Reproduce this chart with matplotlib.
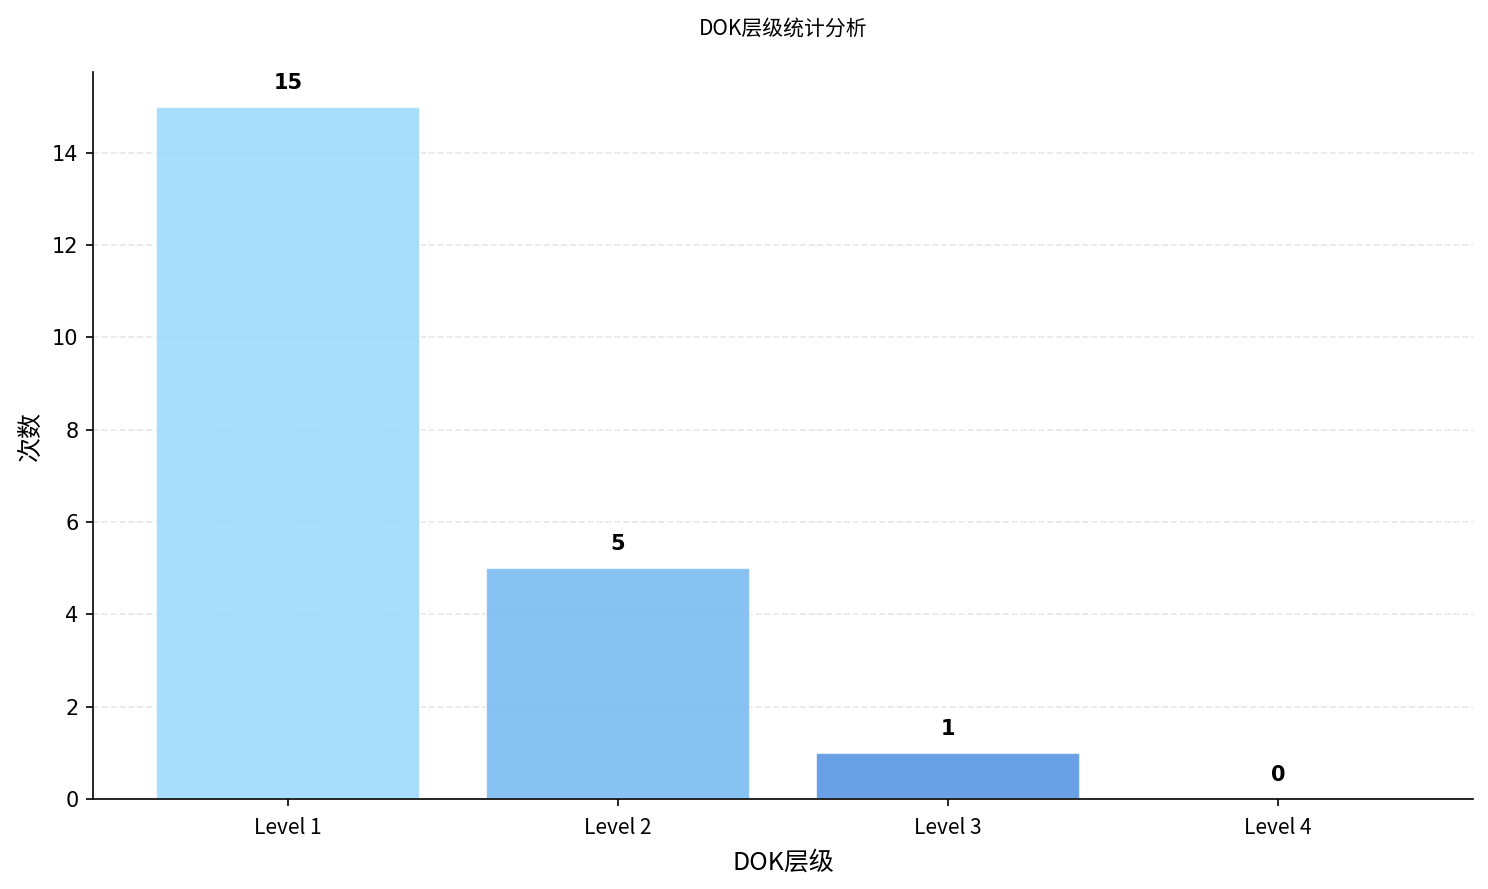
import matplotlib
matplotlib.use('Agg')
import matplotlib.pyplot as plt
import numpy as np

levels = ['Level 1', 'Level 2', 'Level 3', 'Level 4']
counts = [15, 5, 1, 0]
bar_colors = ['#92D6FB', '#6BB3F1', '#4388E0', '#2E6FC4']

cjk = ['Noto Sans CJK SC', 'DejaVu Sans']

fig = plt.figure(figsize=(1488 / 150, 889 / 150), dpi=150)
ax = fig.add_axes([0.0625, 0.1012, 0.9274, 0.8178])

x = np.arange(len(levels))
bars = ax.bar(x, counts, width=0.8, color=bar_colors, alpha=0.8,
              edgecolor='white', linewidth=1, zorder=2)

for rect, val in zip(bars, counts):
    ax.text(rect.get_x() + rect.get_width() / 2, rect.get_height() + 0.3,
            str(val), ha='center', va='bottom', fontsize=10, fontweight='bold')

ax.set_xticks(x)
ax.set_xticklabels(levels, family=cjk, fontsize=10)
ax.tick_params(axis='x', pad=5)
ax.set_xlabel('DOK层级', family=cjk, fontsize=12, labelpad=5)
ax.set_ylabel('次数', family=cjk, fontsize=12)
ax.set_title('DOK层级统计分析', family=cjk, fontsize=10, pad=18)

ax.grid(axis='y', linestyle='--', alpha=0.3, zorder=0)
ax.set_axisbelow(True)
ax.spines['top'].set_visible(False)
ax.spines['right'].set_visible(False)

fig.savefig('out.png', dpi=150)
